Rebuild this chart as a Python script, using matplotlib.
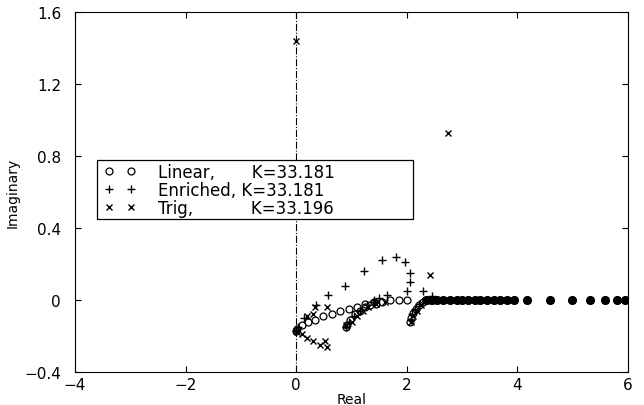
import matplotlib.pyplot as plt
from matplotlib.patches import Rectangle

plt.rcParams['font.family'] = ['DejaVu Sans']

# root locations (real, imag)
lin_re = [0.0, 0.02, 0.10, 0.22, 0.34, 0.49, 0.65, 0.80, 0.95, 1.10, 1.25, 1.40, 1.55, 1.70, 1.85, 2.00,
          0.90, 0.92, 0.98, 1.07, 1.16, 1.25, 1.34, 1.45,
          2.06, 2.08, 2.12, 2.16, 2.22, 2.30, 2.40]
lin_im = [-0.17, -0.16, -0.14, -0.12, -0.11, -0.09, -0.08, -0.06, -0.05, -0.04, -0.02, -0.01, -0.01, 0.0, 0.0, 0.0,
          -0.15, -0.14, -0.11, -0.08, -0.06, -0.04, -0.03, -0.02,
          -0.12, -0.10, -0.07, -0.05, -0.03, -0.01, 0.0]

enr_re = [0.0, 0.03, 0.15, 0.35, 0.58, 0.89, 1.22, 1.55, 1.80, 1.97, 2.05, 2.05, 2.00, 1.64, 1.50, 1.40,
          0.90, 0.95, 1.05, 1.15, 1.28, 1.40,
          2.07, 2.10, 2.15, 2.22, 2.30, 2.45]
enr_im = [-0.17, -0.15, -0.10, -0.03, 0.03, 0.08, 0.16, 0.22, 0.24, 0.21, 0.15, 0.10, 0.05, 0.03, 0.01, 0.0,
          -0.15, -0.12, -0.09, -0.06, -0.03, -0.01,
          -0.11, -0.08, -0.05, -0.02, 0.05, 0.02]

trig_re = [0.0, 0.02, 0.10, 0.19, 0.31, 0.43, 0.55, 0.52, 0.20, 0.31, 0.34, 0.55,
           0.90, 1.00, 1.10, 1.20, 1.30, 1.45, 1.60,
           2.07, 2.12, 2.18, 2.25, 2.42, 0.0, 2.75]
trig_im = [-0.17, -0.18, -0.19, -0.21, -0.23, -0.25, -0.26, -0.23, -0.09, -0.08, -0.04, -0.04,
           -0.14, -0.12, -0.09, -0.06, -0.04, -0.02, -0.01,
           -0.12, -0.09, -0.06, -0.03, 0.14, 1.44, 0.93]

# roots on the real axis shared by all three models
axis_re = [2.35, 2.45, 2.55, 2.65, 2.78, 2.90, 3.00, 3.11, 3.23, 3.33, 3.45, 3.57, 3.69, 3.81, 3.93,
           4.17, 4.59, 4.98, 5.31, 5.59, 5.80, 5.95]
axis_im = [0.0] * len(axis_re)

labels = ['Linear,       K=33.181', 'Enriched, K=33.181', 'Trig,           K=33.196']
xticks = [-4, -2, 0, 2, 4, 6]
xticklabels = ['\u22124', '\u22122', '0', '2', '4', '6']
yticks = [-0.4, 0, 0.4, 0.8, 1.2, 1.6]
yticklabels = ['\u22120.4', '0', '0.4', '0.8', '1.2', '1.6']

fig = plt.figure(figsize=(6.44, 4.06), dpi=100)
ax = fig.add_axes([75/644, 1-373/406, 553/644, 360/406])

ax.plot(lin_re + axis_re, lin_im + axis_im, 'o', mfc='none', mec='k', ms=5, mew=0.9, label=labels[0])
ax.plot(enr_re + axis_re, enr_im + axis_im, '+', color='k', ms=6, mew=1.0, label=labels[1])
ax.plot(trig_re + axis_re, trig_im + axis_im, 'x', color='k', ms=4.5, mew=1.0, label=labels[2])
ax.plot(axis_re, axis_im, 'o', color='k', ms=5.5)
ax.axvline(0, color='k', ls='-.', lw=0.8)

ax.set_xlim(-4, 6)
ax.set_ylim(-0.4, 1.6)
ax.set_xticks(xticks)
ax.set_xticklabels(xticklabels)
ax.set_yticks(yticks)
ax.set_yticklabels(yticklabels)
ax.tick_params(direction='in', top=True, right=True, labelsize=11, length=4)
ax.tick_params(axis='y', pad=10)
ax.set_xlabel('Real', fontsize=10, labelpad=0)
ax.set_ylabel('Imaginary', fontsize=10, labelpad=3)

# MATLAB style legend box, wider than its text
box = Rectangle((0.040, 0.425), 0.571, 0.165, transform=ax.transAxes, facecolor='white',
                edgecolor='k', lw=0.9, zorder=4)
ax.add_patch(box)
leg = ax.legend(loc='upper left', bbox_to_anchor=(0.044, 0.595), numpoints=2, handlelength=1.9,
                fontsize=12, frameon=False, borderaxespad=0, borderpad=0.3,
                labelspacing=0.0, handletextpad=1.3)
leg.set_zorder(5)

plt.savefig('out.png', dpi=100)
